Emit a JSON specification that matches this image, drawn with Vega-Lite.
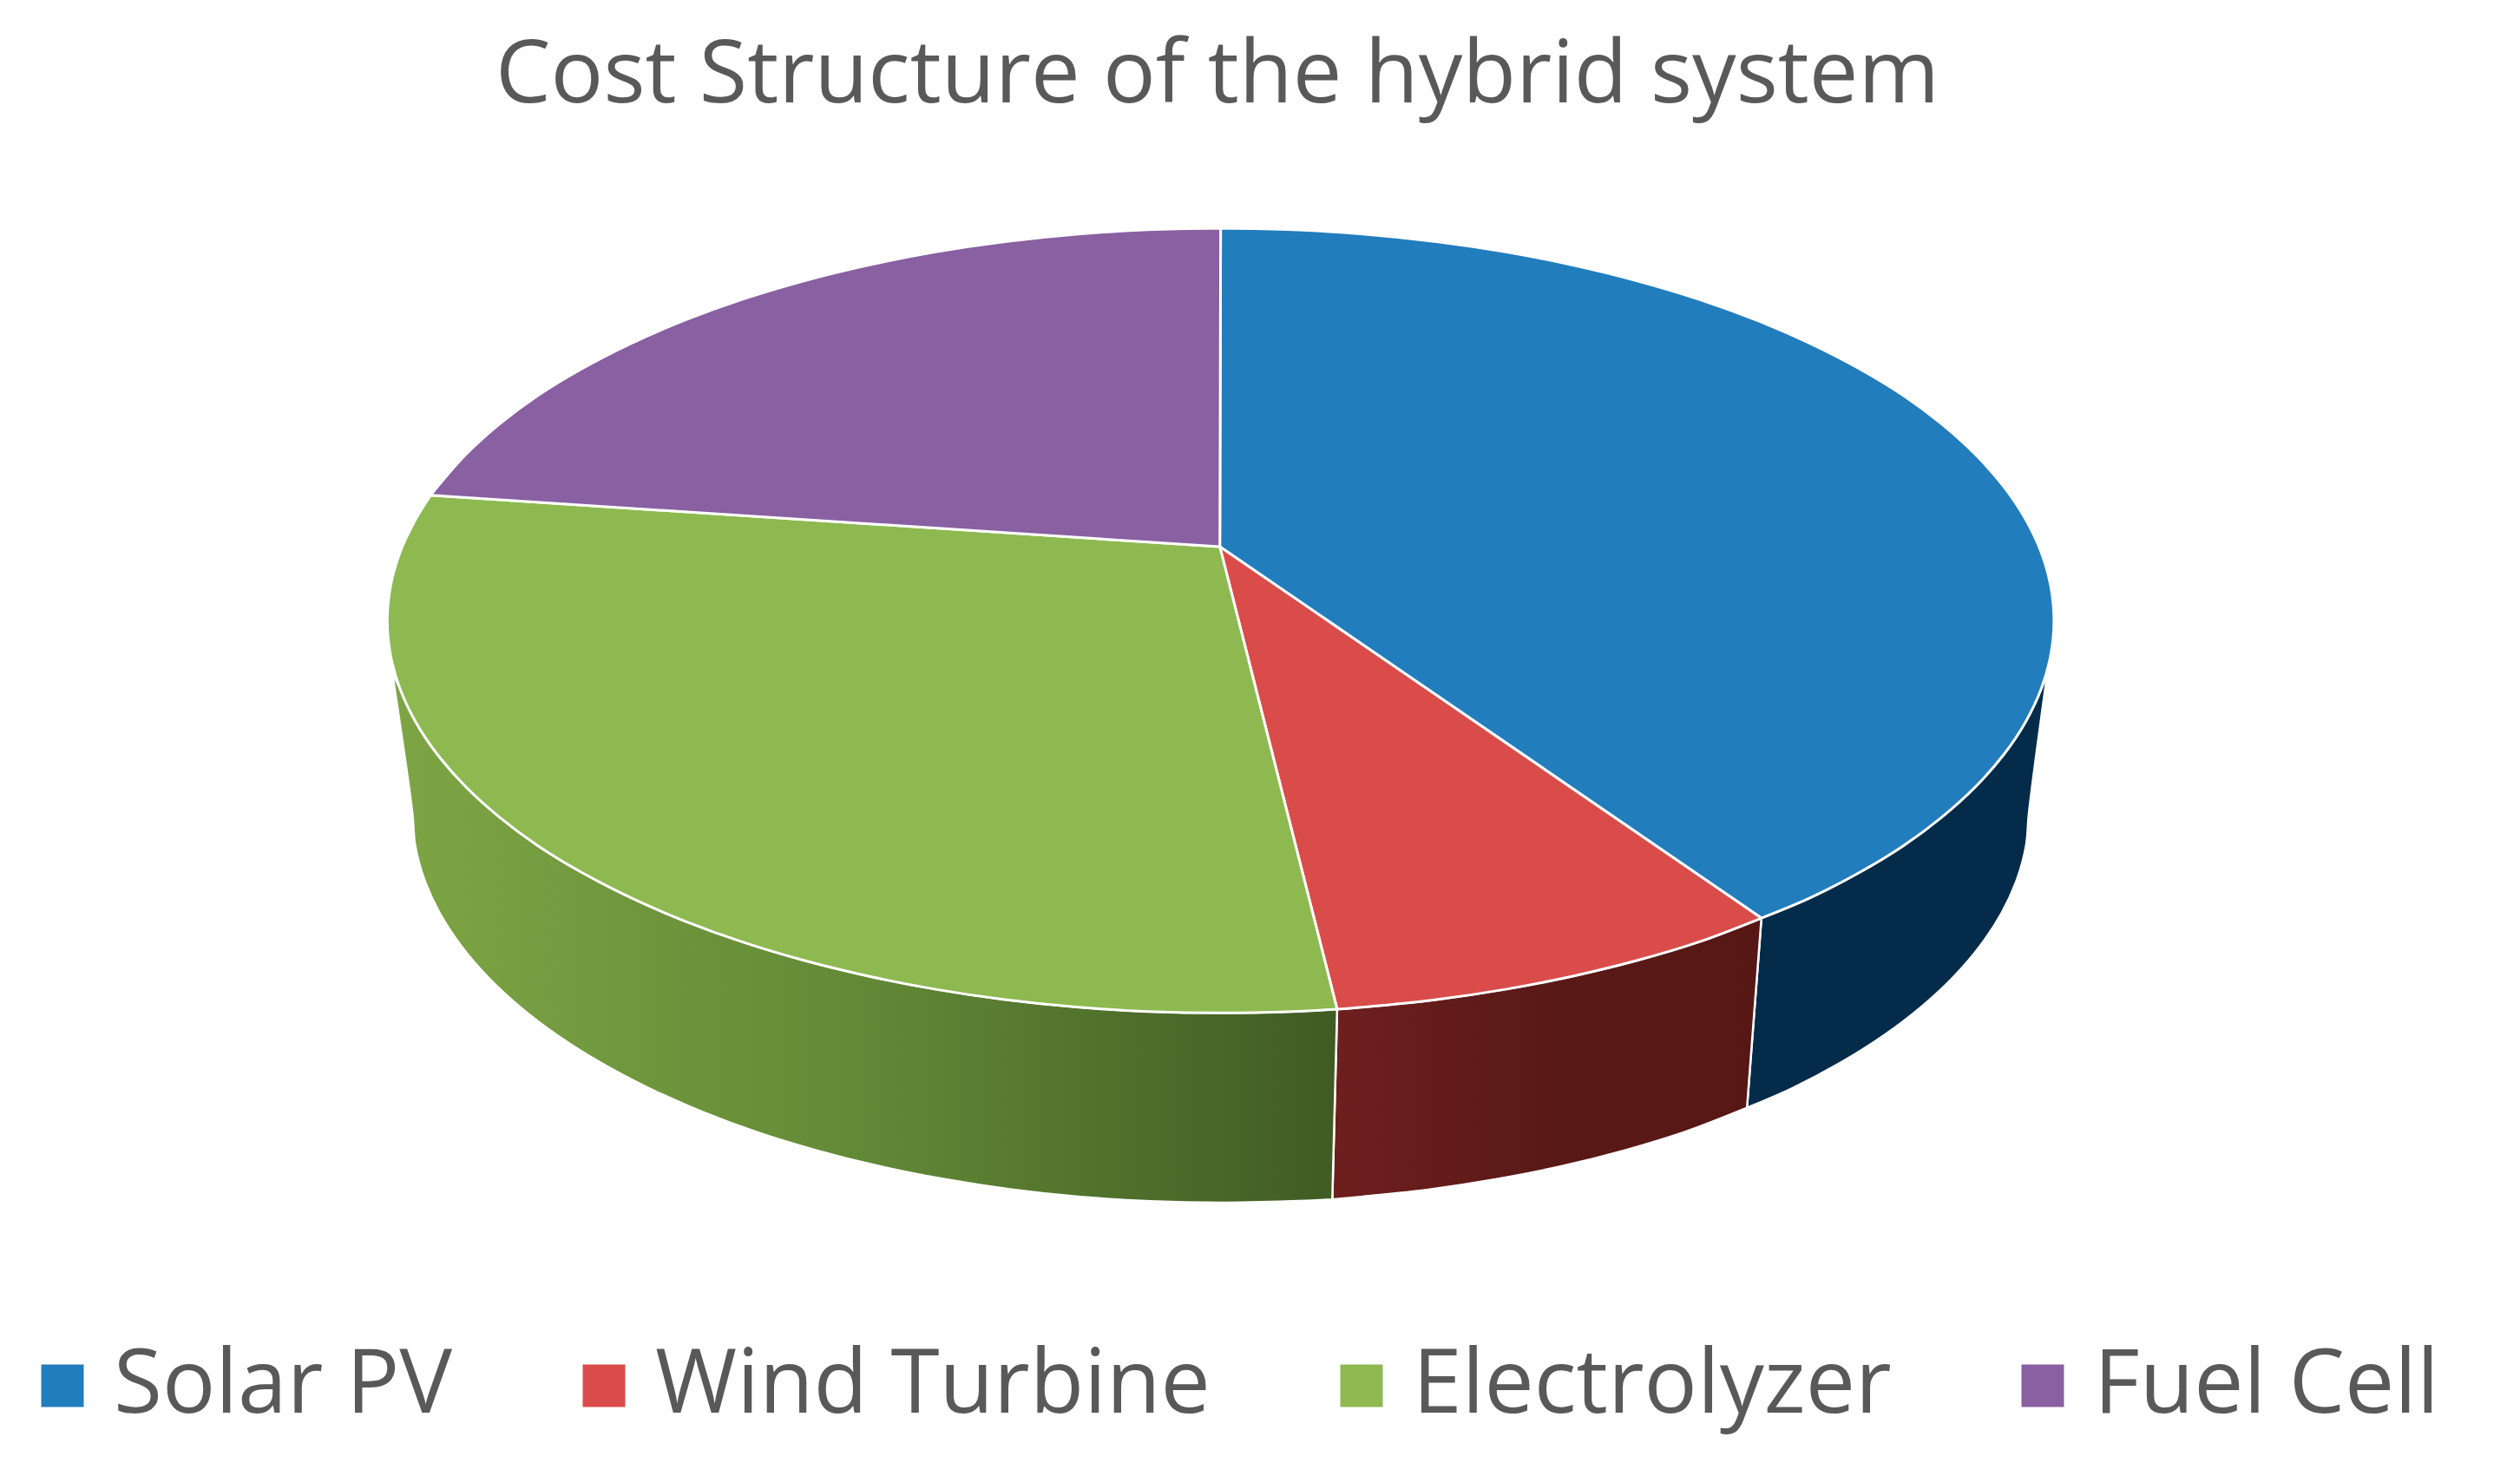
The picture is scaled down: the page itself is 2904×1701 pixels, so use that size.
{
"$schema":"https://vega.github.io/schema/vega-lite/v6.json",
"width":2904,"height":1701,"padding":0,"autosize":{"type":"none"},
"background":"white",
"title":{"text":"Cost Structure of the hybrid system","anchor":"middle","font":"Open Sans","fontSize":101,"fontWeight":"normal","color":"#595959","dx":-49,"dy":219,"offset":0,"baseline":"alphabetic"},
"config":{"view":{"stroke":null}},
"datasets":{
"side":[
{"slice":"Solar PV","i":1,"x":1096,"y":571},{"slice":"Solar PV","i":1.5,"x":1096,"y":571},{"slice":"Solar PV","i":2,"x":1126.1,"y":558.5},{"slice":"Solar PV","i":3,"x":1156.7,"y":542.8},{"slice":"Solar PV","i":4,"x":1184.3,"y":526},{"slice":"Solar PV","i":5,"x":1208.5,"y":508},{"slice":"Solar PV","i":6,"x":1229.4,"y":489.1},{"slice":"Solar PV","i":7,"x":1246.7,"y":469.4},{"slice":"Solar PV","i":8,"x":1260.3,"y":449.1},{"slice":"Solar PV","i":9,"x":1270.1,"y":428.4},{"slice":"Solar PV","i":10,"x":1274,"y":418},{"slice":"Solar PV","i":10.5,"x":1274,"y":418},{"slice":"Solar PV","i":11,"x":1262.5,"y":505},{"slice":"Solar PV","i":12,"x":1260.6,"y":526.2},{"slice":"Solar PV","i":13,"x":1254.9,"y":547.2},{"slice":"Solar PV","i":14,"x":1245.4,"y":567.9},{"slice":"Solar PV","i":15,"x":1232.2,"y":588.1},{"slice":"Solar PV","i":16,"x":1215.4,"y":607.7},{"slice":"Solar PV","i":17,"x":1195.1,"y":626.5},{"slice":"Solar PV","i":18,"x":1171.5,"y":644.4},{"slice":"Solar PV","i":19,"x":1144.8,"y":661.2},{"slice":"Solar PV","i":20,"x":1115.2,"y":676.8},{"slice":"Solar PV","i":21,"x":1087,"y":689},{"slice":"Solar PV","i":21.5,"x":1087,"y":689},{"slice":"Solar PV","i":22,"x":1096,"y":571},{"slice":"Solar PV","i":22.5,"x":1096,"y":571},
{"slice":"Wind Turbine","i":1,"x":1096,"y":571},{"slice":"Wind Turbine","i":1.5,"x":1096,"y":571},{"slice":"Wind Turbine","i":2,"x":1056.9,"y":585.9},{"slice":"Wind Turbine","i":3,"x":1018.8,"y":597.3},{"slice":"Wind Turbine","i":4,"x":978.6,"y":607.1},{"slice":"Wind Turbine","i":5,"x":936.8,"y":615.3},{"slice":"Wind Turbine","i":6,"x":893.7,"y":621.7},{"slice":"Wind Turbine","i":7,"x":849.5,"y":626.3},{"slice":"Wind Turbine","i":8,"x":832,"y":627.7},{"slice":"Wind Turbine","i":8.5,"x":832,"y":627.7},{"slice":"Wind Turbine","i":9,"x":829,"y":746},{"slice":"Wind Turbine","i":9.5,"x":829,"y":746},{"slice":"Wind Turbine","i":10,"x":846.8,"y":744.3},{"slice":"Wind Turbine","i":11,"x":889.7,"y":739.7},{"slice":"Wind Turbine","i":12,"x":931.5,"y":733.3},{"slice":"Wind Turbine","i":13,"x":972.1,"y":725.2},{"slice":"Wind Turbine","i":14,"x":1011,"y":715.4},{"slice":"Wind Turbine","i":15,"x":1048,"y":704.1},{"slice":"Wind Turbine","i":16,"x":1087,"y":689},{"slice":"Wind Turbine","i":16.5,"x":1087,"y":689},{"slice":"Wind Turbine","i":17,"x":1096,"y":571},{"slice":"Wind Turbine","i":17.5,"x":1096,"y":571},
{"slice":"Electrolyzer","i":1,"x":832,"y":627.7},{"slice":"Electrolyzer","i":1.5,"x":832,"y":627.7},{"slice":"Electrolyzer","i":2,"x":804.7,"y":629.1},{"slice":"Electrolyzer","i":3,"x":759.5,"y":630},{"slice":"Electrolyzer","i":4,"x":714.3,"y":629.1},{"slice":"Electrolyzer","i":5,"x":669.5,"y":626.3},{"slice":"Electrolyzer","i":6,"x":625.3,"y":621.7},{"slice":"Electrolyzer","i":7,"x":582.2,"y":615.3},{"slice":"Electrolyzer","i":8,"x":540.4,"y":607.1},{"slice":"Electrolyzer","i":9,"x":500.2,"y":597.3},{"slice":"Electrolyzer","i":10,"x":462.1,"y":585.9},{"slice":"Electrolyzer","i":11,"x":426.2,"y":572.9},{"slice":"Electrolyzer","i":12,"x":392.9,"y":558.5},{"slice":"Electrolyzer","i":13,"x":362.3,"y":542.8},{"slice":"Electrolyzer","i":14,"x":334.7,"y":526},{"slice":"Electrolyzer","i":15,"x":310.5,"y":508},{"slice":"Electrolyzer","i":16,"x":289.6,"y":489.1},{"slice":"Electrolyzer","i":17,"x":272.3,"y":469.4},{"slice":"Electrolyzer","i":18,"x":258.7,"y":449.1},{"slice":"Electrolyzer","i":19,"x":248.9,"y":428.4},{"slice":"Electrolyzer","i":20,"x":244,"y":418},{"slice":"Electrolyzer","i":20.5,"x":244,"y":418},{"slice":"Electrolyzer","i":21,"x":256.5,"y":505},{"slice":"Electrolyzer","i":22,"x":258.4,"y":526.2},{"slice":"Electrolyzer","i":23,"x":264.1,"y":547.2},{"slice":"Electrolyzer","i":24,"x":273.6,"y":567.9},{"slice":"Electrolyzer","i":25,"x":286.8,"y":588.1},{"slice":"Electrolyzer","i":26,"x":303.6,"y":607.7},{"slice":"Electrolyzer","i":27,"x":323.9,"y":626.5},{"slice":"Electrolyzer","i":28,"x":347.5,"y":644.4},{"slice":"Electrolyzer","i":29,"x":374.2,"y":661.2},{"slice":"Electrolyzer","i":30,"x":403.8,"y":676.8},{"slice":"Electrolyzer","i":31,"x":436.2,"y":691.1},{"slice":"Electrolyzer","i":32,"x":471,"y":704.1},{"slice":"Electrolyzer","i":33,"x":508,"y":715.4},{"slice":"Electrolyzer","i":34,"x":546.9,"y":725.2},{"slice":"Electrolyzer","i":35,"x":587.5,"y":733.3},{"slice":"Electrolyzer","i":36,"x":629.3,"y":739.7},{"slice":"Electrolyzer","i":37,"x":672.2,"y":744.3},{"slice":"Electrolyzer","i":38,"x":715.7,"y":747.1},{"slice":"Electrolyzer","i":39,"x":759.5,"y":748},{"slice":"Electrolyzer","i":40,"x":803.3,"y":747.1},{"slice":"Electrolyzer","i":41,"x":829,"y":746},{"slice":"Electrolyzer","i":41.5,"x":829,"y":746},{"slice":"Electrolyzer","i":42,"x":832,"y":627.7},{"slice":"Electrolyzer","i":42.5,"x":832,"y":627.7}
],
"top":[
{"slice":"Solar PV","i":0,"x":759,"y":340},{"slice":"Solar PV","i":0.5,"x":759,"y":340},{"slice":"Solar PV","i":1,"x":759.5,"y":142},{"slice":"Solar PV","i":1.5,"x":759.5,"y":142},{"slice":"Solar PV","i":2,"x":804.7,"y":142.9},{"slice":"Solar PV","i":3,"x":849.5,"y":145.7},{"slice":"Solar PV","i":4,"x":893.7,"y":150.3},{"slice":"Solar PV","i":5,"x":936.8,"y":156.7},{"slice":"Solar PV","i":6,"x":978.6,"y":164.9},{"slice":"Solar PV","i":7,"x":1018.8,"y":174.7},{"slice":"Solar PV","i":8,"x":1056.9,"y":186.1},{"slice":"Solar PV","i":9,"x":1092.8,"y":199.1},{"slice":"Solar PV","i":10,"x":1126.1,"y":213.5},{"slice":"Solar PV","i":11,"x":1156.7,"y":229.2},{"slice":"Solar PV","i":12,"x":1184.3,"y":246},{"slice":"Solar PV","i":13,"x":1208.5,"y":264},{"slice":"Solar PV","i":14,"x":1229.4,"y":282.9},{"slice":"Solar PV","i":15,"x":1246.7,"y":302.6},{"slice":"Solar PV","i":16,"x":1260.3,"y":322.9},{"slice":"Solar PV","i":17,"x":1270.1,"y":343.6},{"slice":"Solar PV","i":18,"x":1276,"y":364.7},{"slice":"Solar PV","i":19,"x":1278,"y":386},{"slice":"Solar PV","i":20,"x":1276,"y":407.3},{"slice":"Solar PV","i":21,"x":1270.1,"y":428.4},{"slice":"Solar PV","i":22,"x":1260.3,"y":449.1},{"slice":"Solar PV","i":23,"x":1246.7,"y":469.4},{"slice":"Solar PV","i":24,"x":1229.4,"y":489.1},{"slice":"Solar PV","i":25,"x":1208.5,"y":508},{"slice":"Solar PV","i":26,"x":1184.3,"y":526},{"slice":"Solar PV","i":27,"x":1156.7,"y":542.8},{"slice":"Solar PV","i":28,"x":1126.1,"y":558.5},{"slice":"Solar PV","i":29,"x":1096,"y":571},{"slice":"Solar PV","i":29.5,"x":1096,"y":571},{"slice":"Solar PV","i":30,"x":759,"y":340},{"slice":"Solar PV","i":30.5,"x":759,"y":340},
{"slice":"Wind Turbine","i":0,"x":759,"y":340},{"slice":"Wind Turbine","i":0.5,"x":759,"y":340},{"slice":"Wind Turbine","i":1,"x":1096,"y":571},{"slice":"Wind Turbine","i":1.5,"x":1096,"y":571},{"slice":"Wind Turbine","i":2,"x":1056.9,"y":585.9},{"slice":"Wind Turbine","i":3,"x":1018.8,"y":597.3},{"slice":"Wind Turbine","i":4,"x":978.6,"y":607.1},{"slice":"Wind Turbine","i":5,"x":936.8,"y":615.3},{"slice":"Wind Turbine","i":6,"x":893.7,"y":621.7},{"slice":"Wind Turbine","i":7,"x":849.5,"y":626.3},{"slice":"Wind Turbine","i":8,"x":832,"y":627.7},{"slice":"Wind Turbine","i":8.5,"x":832,"y":627.7},{"slice":"Wind Turbine","i":9,"x":759,"y":340},{"slice":"Wind Turbine","i":9.5,"x":759,"y":340},
{"slice":"Electrolyzer","i":0,"x":759,"y":340},{"slice":"Electrolyzer","i":0.5,"x":759,"y":340},{"slice":"Electrolyzer","i":1,"x":832,"y":627.7},{"slice":"Electrolyzer","i":1.5,"x":832,"y":627.7},{"slice":"Electrolyzer","i":2,"x":804.7,"y":629.1},{"slice":"Electrolyzer","i":3,"x":759.5,"y":630},{"slice":"Electrolyzer","i":4,"x":714.3,"y":629.1},{"slice":"Electrolyzer","i":5,"x":669.5,"y":626.3},{"slice":"Electrolyzer","i":6,"x":625.3,"y":621.7},{"slice":"Electrolyzer","i":7,"x":582.2,"y":615.3},{"slice":"Electrolyzer","i":8,"x":540.4,"y":607.1},{"slice":"Electrolyzer","i":9,"x":500.2,"y":597.3},{"slice":"Electrolyzer","i":10,"x":462.1,"y":585.9},{"slice":"Electrolyzer","i":11,"x":426.2,"y":572.9},{"slice":"Electrolyzer","i":12,"x":392.9,"y":558.5},{"slice":"Electrolyzer","i":13,"x":362.3,"y":542.8},{"slice":"Electrolyzer","i":14,"x":334.7,"y":526},{"slice":"Electrolyzer","i":15,"x":310.5,"y":508},{"slice":"Electrolyzer","i":16,"x":289.6,"y":489.1},{"slice":"Electrolyzer","i":17,"x":272.3,"y":469.4},{"slice":"Electrolyzer","i":18,"x":258.7,"y":449.1},{"slice":"Electrolyzer","i":19,"x":248.9,"y":428.4},{"slice":"Electrolyzer","i":20,"x":243,"y":407.3},{"slice":"Electrolyzer","i":21,"x":241,"y":386},{"slice":"Electrolyzer","i":22,"x":243,"y":364.7},{"slice":"Electrolyzer","i":23,"x":248.9,"y":343.6},{"slice":"Electrolyzer","i":24,"x":258.7,"y":322.9},{"slice":"Electrolyzer","i":25,"x":268,"y":308},{"slice":"Electrolyzer","i":25.5,"x":268,"y":308},{"slice":"Electrolyzer","i":26,"x":759,"y":340},{"slice":"Electrolyzer","i":26.5,"x":759,"y":340},
{"slice":"Fuel Cell","i":0,"x":759,"y":340},{"slice":"Fuel Cell","i":0.5,"x":759,"y":340},{"slice":"Fuel Cell","i":1,"x":268,"y":308},{"slice":"Fuel Cell","i":1.5,"x":268,"y":308},{"slice":"Fuel Cell","i":2,"x":272.3,"y":302.6},{"slice":"Fuel Cell","i":3,"x":289.6,"y":282.9},{"slice":"Fuel Cell","i":4,"x":310.5,"y":264},{"slice":"Fuel Cell","i":5,"x":334.7,"y":246},{"slice":"Fuel Cell","i":6,"x":362.3,"y":229.2},{"slice":"Fuel Cell","i":7,"x":392.9,"y":213.5},{"slice":"Fuel Cell","i":8,"x":426.2,"y":199.1},{"slice":"Fuel Cell","i":9,"x":462.1,"y":186.1},{"slice":"Fuel Cell","i":10,"x":500.2,"y":174.7},{"slice":"Fuel Cell","i":11,"x":540.4,"y":164.9},{"slice":"Fuel Cell","i":12,"x":582.2,"y":156.7},{"slice":"Fuel Cell","i":13,"x":625.3,"y":150.3},{"slice":"Fuel Cell","i":14,"x":669.5,"y":145.7},{"slice":"Fuel Cell","i":15,"x":714.3,"y":142.9},{"slice":"Fuel Cell","i":16,"x":759.5,"y":142},{"slice":"Fuel Cell","i":16.5,"x":759.5,"y":142},{"slice":"Fuel Cell","i":17,"x":759,"y":340},{"slice":"Fuel Cell","i":17.5,"x":759,"y":340}
]},
"encoding":{
"x":{"field":"x","type":"quantitative","scale":{"domain":[0,1568],"nice":false,"zero":false},"axis":null},
"y":{"field":"y","type":"quantitative","scale":{"domain":[918,0],"nice":false,"zero":false},"axis":null},
"order":{"field":"i","type":"quantitative"}
},
"layer":[
{"data":{"name":"side"},"transform":[{"filter":"datum.slice==='Solar PV'"}],"mark":{"type":"line","interpolate":"catmull-rom","fill":"#042c4a","stroke":"#ffffff","strokeWidth":2.5,"strokeJoin":"round"}},
{"data":{"name":"side"},"transform":[{"filter":"datum.slice==='Wind Turbine'"}],"mark":{"type":"line","interpolate":"catmull-rom","fill":{"gradient":"linear","x1":0,"x2":1,"y1":0,"y2":0,"stops":[{"offset":0,"color":"#6e1f1e"},{"offset":0.5,"color":"#591917"},{"offset":1,"color":"#561715"}]},"stroke":"#ffffff","strokeWidth":2.5,"strokeJoin":"round"}},
{"data":{"name":"side"},"transform":[{"filter":"datum.slice==='Electrolyzer'"}],"mark":{"type":"line","interpolate":"catmull-rom","fill":{"gradient":"linear","x1":0,"x2":1,"y1":0,"y2":0,"stops":[{"offset":0,"color":"#7ea544"},{"offset":0.5,"color":"#628936"},{"offset":1,"color":"#405b23"}]},"stroke":"#ffffff","strokeWidth":2.5,"strokeJoin":"round"}},
{"data":{"name":"top"},"mark":{"type":"line","interpolate":"catmull-rom","filled":true,"stroke":"#ffffff","strokeWidth":3,"strokeJoin":"round"},
"encoding":{"detail":{"field":"slice"},"fill":{"field":"slice","type":"nominal",
"scale":{"domain":["Solar PV","Wind Turbine","Electrolyzer","Fuel Cell"],"range":["#227dbd","#d94c4a","#8db950","#8960a1"]},
"legend":{"title":null,"orient":"none","legendX":21,"legendY":1546,"direction":"horizontal","columns":4,"columnPadding":123,"symbolType":"square","symbolSize":2400,"symbolStrokeWidth":0,"symbolOpacity":1,"labelFont":"Open Sans","labelFontSize":102,"labelColor":"#595959","labelOffset":8,"labelLimit":900,"padding":0}}}}
]
}
